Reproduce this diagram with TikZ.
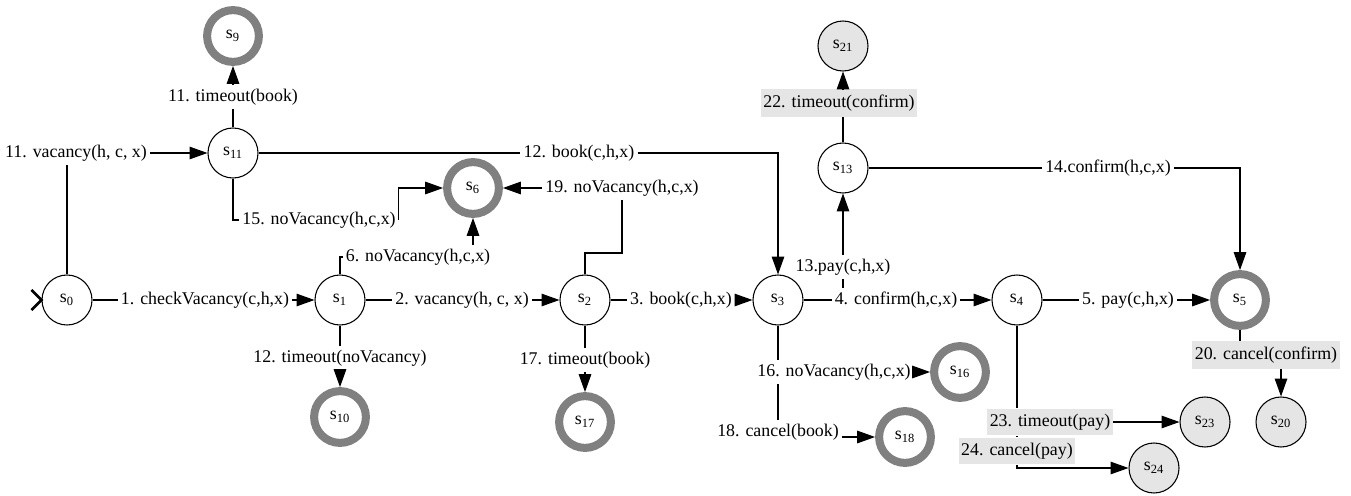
\documentclass[tikz,border=0pt]{standalone}
\usepackage{fontspec}
\setmainfont{Liberation Serif}
\usepackage{xcolor}
\usetikzlibrary{arrows.meta}

\begin{document}
\begin{tikzpicture}[x=0.56pt,y=-0.56pt,font=\fontsize{10}{12}\selectfont,
  state/.style={circle,draw,line width=0.6pt,minimum size=28pt,inner sep=0pt},
  final/.style={circle,draw=gray,line width=4.5pt,minimum size=29pt,inner sep=0pt},
  dead/.style={state,fill=black!10},
  lab/.style={inner xsep=1.5pt,inner ysep=2pt},
  glab/.style={fill=black!10,inner xsep=1.5pt,inner ysep=3pt},
  arr/.style={-{Triangle[length=10pt,width=7pt]}},
  every path/.style={line width=0.6pt}]
\useasboundingbox (0,0) rectangle (1351,496);
\node[state] (s0) at (67,300) {s\textsubscript{0}};
\node[state] (s1) at (340,300) {s\textsubscript{1}};
\node[state] (s2) at (585,300) {s\textsubscript{2}};
\node[state] (s3) at (778,300) {s\textsubscript{3}};
\node[state] (s4) at (1017,300) {s\textsubscript{4}};
\node[final] (s5) at (1240,300) {s\textsubscript{5}};
\node[final] (s6) at (473,188) {s\textsubscript{6}};
\node[final] (s9) at (233,36) {s\textsubscript{9}};
\node[final] (s10) at (340,417) {s\textsubscript{10}};
\node[state] (s11) at (233,153) {s\textsubscript{11}};
\node[state] (s13) at (843,168) {s\textsubscript{13}};
\node[final] (s16) at (960,372) {s\textsubscript{16}};
\node[final] (s17) at (585,422) {s\textsubscript{17}};
\node[final] (s18) at (905,437) {s\textsubscript{18}};
\node[dead] (s20) at (1281,422) {s\textsubscript{20}};
\node[dead] (s21) at (843,46) {s\textsubscript{21}};
\node[dead] (s23) at (1205,422) {s\textsubscript{23}};
\node[dead] (s24) at (1154,468) {s\textsubscript{24}};
\node[lab] (l1) at (205,300) {1. checkVacancy(c,h,x)};
\node[lab] (l2) at (462,300) {2. vacancy(h, c, x)};
\node[lab] (l3) at (681,300) {3. book(c,h,x)};
\node[lab] (l4) at (896,300) {4. confirm(h,c,x)};
\node[lab] (l5) at (1128,300) {5. pay(c,h,x)};
\node[lab] (l6) at (418,257) {6. noVacancy(h,c,x)};
\node[lab] (l11v) at (76,153) {11. vacancy(h, c, x)};
\node[lab] (l11t) at (233,97) {11. timeout(book)};
\node[lab] (l12t) at (340,358) {12. timeout(noVacancy)};
\node[lab] (l12b) at (579,153) {12. book(c,h,x)};
\node[lab] (l13) at (843,267) {13.pay(c,h,x)};
\node[lab] (l14) at (1108,168) {14.confirm(h,c,x)};
\node[lab] (l15) at (319,220) {15. noVacancy(h,c,x)};
\node[lab] (l16) at (834,372) {16. noVacancy(h,c,x)};
\node[lab] (l17) at (585,360) {17. timeout(book)};
\node[lab] (l18) at (778,432) {18. cancel(book)};
\node[lab] (l19) at (622,188) {19. noVacancy(h,c,x)};
\node[glab] (l20) at (1266,355) {20. cancel(confirm)};
\node[glab] (l22) at (839,103) {22. timeout(confirm)};
\node[glab] (l23) at (1050,422) {23. timeout(pay)};
\node[glab] (l24) at (1017,451) {24. cancel(pay)};
\coordinate (c19) at (622,253);
\draw[line width=1.5pt] ([shift={(-10,-10)}]s0.west) -- (s0.west) -- ([shift={(-10,10)}]s0.west);
\draw (s0) -- (l1);
\draw[arr] (l1) -- (s1);
\draw (s1) -- (l2);
\draw[arr] (l2) -- (s2);
\draw (s2) -- (l3);
\draw[arr] (l3) -- (s3);
\draw (s3) -- (l4);
\draw[arr] (l4) -- (s4);
\draw (s4) -- (l5);
\draw[arr] (l5) -- (s5);
\draw (s1) |- (l6);
\draw[arr] (l6.north -| s6) -- (s6);
\draw (s0) -- (l11v.south -| s0);
\draw[arr] (l11v) -- (s11);
\draw (s11) -- (l11t);
\draw[arr] (l11t) -- (s9);
\draw (s1) -- (l12t);
\draw[arr] (l12t) -- (s10);
\draw (s11) -- (l12b);
\draw[arr] (l12b) -| (s3);
\draw (l4.north -| l13) -- (l13);
\draw[arr] (l13) -- (s13);
\draw (s13) -- (l14);
\draw[arr] (l14) -| (s5);
\draw (s11) |- (l15);
\draw[arr] (l15.east) |- (s6);
\draw (s3) -- (l16.north -| s3);
\draw[arr] (l16) -- (s16);
\draw (s2) -- (l17);
\draw[arr] (l17) -- (s17);
\draw (l16.south -| s3) -- (l18);
\draw[arr] (l18.east |- s18) -- (s18);
\draw (s2) |- (c19) -- (l19);
\draw[arr] (l19) -- (s6);
\draw (s5) -- (l20.north -| s5);
\draw[arr] (l20.south -| s20) -- (s20);
\draw (s13) -- (l22.south -| s13);
\draw[arr] (l22.north -| s21) -- (s21);
\draw (s4) -- (l23.north -| s4);
\draw[arr] (l23) -- (s23);
\draw (l23.south -| s4) -- (l24.north -| s4);
\draw[arr] (l24.south -| s4) |- (s24);
\end{tikzpicture}
\end{document}
